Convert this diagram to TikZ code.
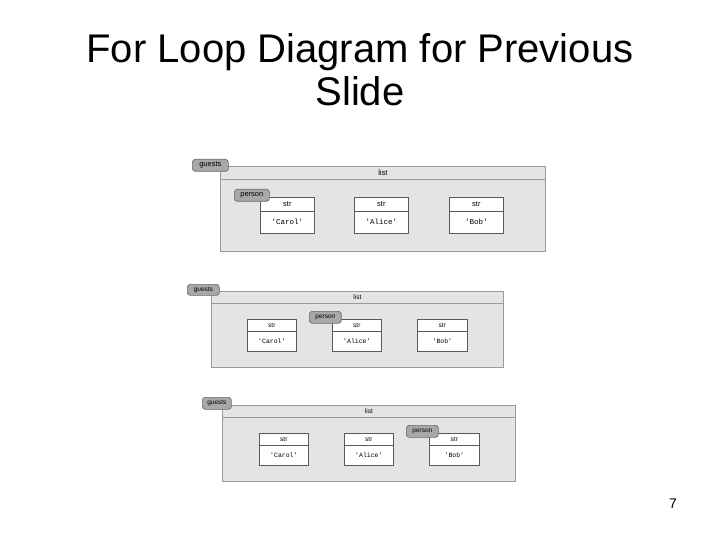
\documentclass[tikz,border=0pt]{standalone}
\usepackage{fontspec}
\setmainfont{Liberation Sans}
\setmonofont{Liberation Mono}
\definecolor{listfill}{HTML}{E4E4E4}
\definecolor{listdraw}{HTML}{9A9A9A}
\definecolor{tagfill}{HTML}{A8A8A8}
\definecolor{tagdraw}{HTML}{6A6A6A}
\definecolor{boxdraw}{HTML}{5A5A5A}
\tikzset{
  listbox/.style={draw=listdraw, fill=listfill, line width=0.8pt, anchor=north west, inner sep=0pt},
  strbox/.style={draw=boxdraw, fill=white, line width=0.7pt, anchor=north west, inner sep=0pt},
  tagbox/.style={draw=tagdraw, fill=tagfill, rounded corners=3pt, line width=0.7pt, anchor=north west, inner sep=0pt, text=black},
  lbl/.style={inner sep=0pt, text=black},
  title/.style={font=\fontsize{40}{44}\selectfont, anchor=base, inner sep=0pt}
}
\usetikzlibrary{calc}
\newcommand{\strcell}[8]{% name, x, y, w, h, header height, value, font size
  \node[strbox, minimum width=#4pt, minimum height=#5pt] (#1) at (#2,#3) {};
  \draw[boxdraw, line width=0.6pt] ($(#1.north west)+(0,#6)$) -- ($(#1.north east)+(0,#6)$);
  \node[lbl, font=\fontsize{#8}{#8}\selectfont] at ($(#1.north)+(0,#6/2)$) {str};
  \node[lbl, font=\ttfamily\fontsize{#8}{#8}\selectfont] at ($(#1.north)+(0,#6+#5/2-#6/2)$) {#7};
}
\begin{document}
\begin{tikzpicture}[x=1pt,y=-1pt]
\useasboundingbox (0,0) rectangle (720,540);
% title
\node[title] (t1) at (360,63) {For Loop Diagram for Previous};
\node[title] (t2) at (360,106) {Slide};
\node[font=\fontsize{14}{16}\selectfont, anchor=base, inner sep=0pt] (pg) at (673,508) {7};

% ---------- diagram 1 ----------
\node[listbox, minimum width=325pt, minimum height=85pt] (L1) at (220,166) {};
\draw[listdraw, line width=0.7pt] ($(L1.north west)+(0,13)$) -- ($(L1.north east)+(0,13)$);
\node[lbl, font=\fontsize{7.5}{8}\selectfont] (L1t) at ($(L1.north)+(0,6.5)$) {list};
\strcell{A1}{260}{197}{54}{36}{14}{'Carol'}{7.5}
\strcell{B1}{354}{197}{54}{36}{14}{'Alice'}{7.5}
\strcell{C1}{449}{197}{54}{36}{14}{'Bob'}{7.5}
\node[tagbox, minimum width=36pt, minimum height=12pt, font=\fontsize{7.5}{8}\selectfont] (G1) at (192,159) {guests};
\node[tagbox, minimum width=35pt, minimum height=12pt, font=\fontsize{7.5}{8}\selectfont] (P1) at (234,189) {person};

% ---------- diagram 2 ----------
\node[listbox, minimum width=292pt, minimum height=76pt] (L2) at (211,291) {};
\draw[listdraw, line width=0.7pt] ($(L2.north west)+(0,12)$) -- ($(L2.north east)+(0,12)$);
\node[lbl, font=\fontsize{6.5}{7}\selectfont] (L2t) at ($(L2.north)+(0,6)$) {list};
\strcell{A2}{247}{319}{49}{32}{12}{'Carol'}{6.5}
\strcell{B2}{332}{319}{49}{32}{12}{'Alice'}{6.5}
\strcell{C2}{417}{319}{50}{32}{12}{'Bob'}{6.5}
\node[tagbox, minimum width=32pt, minimum height=11pt, font=\fontsize{6.5}{7}\selectfont] (G2) at (187,284) {guests};
\node[tagbox, minimum width=32pt, minimum height=12pt, font=\fontsize{6.5}{7}\selectfont] (P2) at (309,311) {person};

% ---------- diagram 3 ----------
\node[listbox, minimum width=293pt, minimum height=76pt] (L3) at (222,405) {};
\draw[listdraw, line width=0.7pt] ($(L3.north west)+(0,12)$) -- ($(L3.north east)+(0,12)$);
\node[lbl, font=\fontsize{6.5}{7}\selectfont] (L3t) at ($(L3.north)+(0,6)$) {list};
\strcell{A3}{259}{433}{49}{32}{12}{'Carol'}{6.5}
\strcell{B3}{344}{433}{49}{32}{12}{'Alice'}{6.5}
\strcell{C3}{429}{433}{50}{32}{12}{'Bob'}{6.5}
\node[tagbox, minimum width=29pt, minimum height=12pt, font=\fontsize{6.5}{7}\selectfont] (G3) at (202,397) {guests};
\node[tagbox, minimum width=32pt, minimum height=12pt, font=\fontsize{6.5}{7}\selectfont] (P3) at (406,425) {person};
\end{tikzpicture}
\end{document}
